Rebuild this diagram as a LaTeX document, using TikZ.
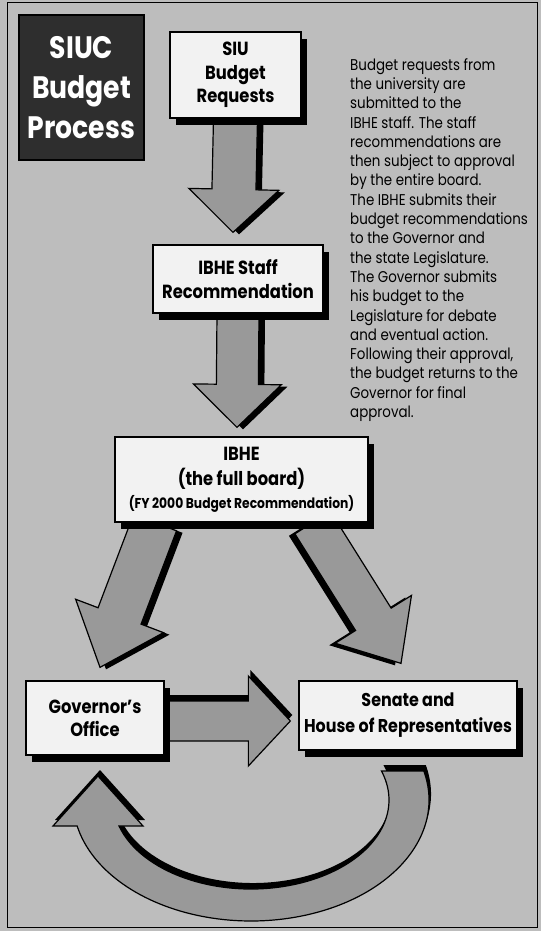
\documentclass[tikz,border=0pt]{standalone}
\usepackage{fontspec}
\setmainfont{Poppins}[FakeStretch=0.86]
\usetikzlibrary{calc,shadows}
\pgfdeclarelayer{bg}
\pgfdeclarelayer{arrows}
\pgfsetlayers{bg,arrows,main}
\newcommand{\blockarrow}[6][darkright]{%
  \coordinate (ba-a) at #2;
  \coordinate (ba-b) at #3;
  \coordinate (ba-h) at ($(ba-b)!#6!(ba-a)$);
  \draw[bigarrow,#1] ($(ba-a)!#4!90:(ba-b)$) -- ($(ba-h)!#4!90:(ba-b)$) -- ($(ba-h)!#5!90:(ba-b)$)
    -- (ba-b) -- ($(ba-h)!#5!-90:(ba-b)$) -- ($(ba-h)!#4!-90:(ba-b)$) -- ($(ba-a)!#4!-90:(ba-b)$) -- cycle;}

\begin{document}
\begin{tikzpicture}[x=1pt,y=1pt,
  box/.style={draw, line width=1.3pt, fill=black!5, align=center, inner sep=2pt,
    font=\bfseries\fontsize{19}{24}\selectfont,
    drop shadow={shadow xshift=6pt, shadow yshift=-7pt, fill=black, opacity=1}},
  bigarrow/.style={draw, line width=1.2pt, fill=black!40, line join=miter},
  darkright/.style={drop shadow={shadow xshift=6pt, shadow yshift=-2pt, fill=black, opacity=1}},
  darkleft/.style={drop shadow={shadow xshift=-6pt, shadow yshift=-2pt, fill=black, opacity=1}},
  darkup/.style={drop shadow={shadow xshift=2pt, shadow yshift=6pt, fill=black, opacity=1}}]
  \useasboundingbox (0,0) rectangle (541,-931);
  \begin{pgfonlayer}{bg}
    \fill[black!26] (0,0) rectangle (541,-931);
    \draw[line width=1pt] (7,-3) rectangle (537,-927);
  \end{pgfonlayer}

  \node[draw, line width=1.3pt, fill=black!82, text=white, align=center, minimum width=125, minimum height=145,
    font=\bfseries\fontsize{31}{40}\selectfont] (title) at (81.5,-87.5) {SIUC\\Budget\\Process};
  \node[box, minimum width=131, minimum height=86, font=\bfseries\fontsize{19}{23.5}\selectfont] (siu) at (235.5,-75) {SIU\\Budget\\Requests};
  \node[box, minimum width=170, minimum height=68] (staff) at (238,-279) {IBHE Staff\\Recommendation};
  \node[box, minimum width=253, minimum height=85, font=\bfseries\fontsize{19}{25}\selectfont] (ibhe) at (241.5,-479.5)
    {IBHE\\(the full board)\\[-2pt]{\fontsize{14.3}{16}\selectfont (FY 2000 Budget Recommendation)}};
  \node[box, minimum width=138, minimum height=74, font=\bfseries\fontsize{19}{23}\selectfont] (gov) at (95,-718) {Governor's\\Office};
  \node[box, minimum width=218, minimum height=69, font=\bfseries\fontsize{18.5}{26}\selectfont] (senate) at (408,-715.5) {Senate and\\House of Representatives};

  \node[anchor=north west, align=left, inner sep=0, font=\fontsize{15.6}{19.3}\selectfont] (desc) at (350,-58)
    {Budget requests from\\the university are\\submitted to the\\IBHE staff. The staff\\recommendations are\\then subject to approval\\by the entire board.\\The IBHE submits their\\budget recommendations\\to the Governor and\\the state Legislature.\\The Governor submits\\his budget to the\\Legislature for debate\\and eventual action.\\Following their approval,\\the budget returns to the\\Governor for final\\approval.};

  \begin{pgfonlayer}{arrows}
    \blockarrow{(siu.south)}{($(staff.north)+(-5,12)$)}{22pt}{45pt}{43pt}
    \blockarrow{(staff.south)}{($(ibhe.north)+(-4.5,9)$)}{21pt}{44pt}{43pt}
    \blockarrow{($(ibhe.south west)!0.16!(ibhe.south east)$)}{($(gov.north)+(5,13)$)}{23pt}{47pt}{55pt}
    \blockarrow[darkleft]{($(ibhe.south west)!0.78!(ibhe.south east)$)}{($(senate.north)+(-7,17)$)}{21pt}{45pt}{52pt}
    \blockarrow[darkup]{($(gov.east)+(0,-3)$)}{($(senate.west |- gov.east)+(-8,-3)$)}{20pt}{45pt}{42pt}
    \coordinate (loop) at (251,-800);
    \draw[bigarrow, darkup] ($(loop)+(13.87:178 and 121)$) arc[start angle=13.87, end angle=-167.59, x radius=178, y radius=121]
      -- (53,-826) -- (98,-776) -- (143,-826)
      -- ($(loop)+(-163.01:138 and 89)$) arc[start angle=-163.01, end angle=19.02, x radius=138, y radius=89] -- cycle;
  \end{pgfonlayer}
\end{tikzpicture}
\end{document}
